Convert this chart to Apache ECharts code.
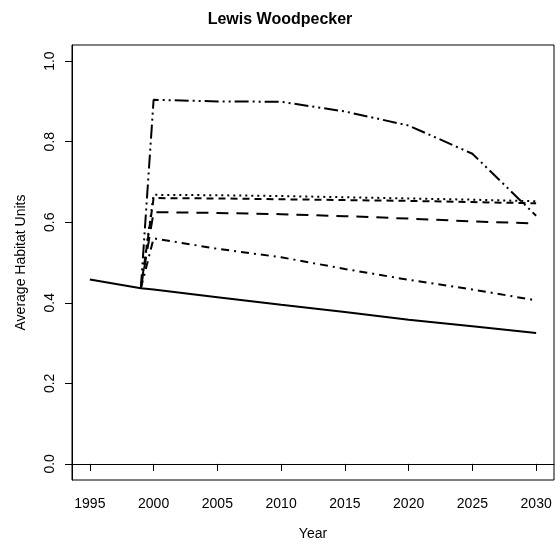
<!DOCTYPE html>
<html>
<head>
<meta charset="utf-8">
<script src="https://cdn.jsdelivr.net/npm/echarts@6/dist/echarts.min.js"></script>
<style>html,body{margin:0;padding:0;background:#fff;}#c{width:560px;height:548px;}</style>
</head>
<body>
<div id="c"></div>
<script>
var years = [1995, 1999, 2000, 2005, 2010, 2015, 2020, 2025, 2030];
var scenYears = [1999, 2000, 2005, 2010, 2015, 2020, 2025, 2030];
var baseline = [0.458, 0.436, 0.433, 0.414, 0.395, 0.377, 0.358, 0.342, 0.325];
var scenTop = [0.436, 0.904, 0.900, 0.899, 0.875, 0.840, 0.770, 0.616];
var scenDotted = [0.436, 0.668, 0.667, 0.665, 0.662, 0.659, 0.656, 0.652];
var scenDashed = [0.436, 0.660, 0.659, 0.657, 0.655, 0.653, 0.650, 0.647];
var scenLongDash = [0.436, 0.625, 0.623, 0.620, 0.615, 0.609, 0.602, 0.597];
var scenDotDash = [0.436, 0.560, 0.534, 0.513, 0.484, 0.457, 0.433, 0.406];
var xTicks = [1995, 2000, 2005, 2010, 2015, 2020, 2025, 2030];
var yTicks = [0, 0.2, 0.4, 0.6, 0.8, 1.0];

function pairs(xs, ys) { return xs.map(function (x, i) { return [x, ys[i]]; }); }
function mk(name, xs, ys, type) {
  return {
    name: name, type: 'line', data: pairs(xs, ys), showSymbol: false, symbol: 'none',
    lineStyle: { color: '#000', width: 2, type: type, cap: 'butt' }, animation: false, z: 3
  };
}
var font = 'Arial, "Liberation Sans", sans-serif';
var chart = echarts.init(document.getElementById('c'));
chart.setOption({
  backgroundColor: '#fff',
  animation: false,
  title: {
    text: 'Lewis Woodpecker', left: 'center', top: 7,
    textStyle: { fontFamily: font, fontSize: 16, fontWeight: 'bold', color: '#000' }
  },
  grid: { left: 72, right: 6, top: 45, bottom: 68, show: true, borderColor: '#000', borderWidth: 1, backgroundColor: 'transparent' },
  xAxis: {
    type: 'value', min: 1993.6, max: 2031.4,
    name: 'Year', nameLocation: 'middle', nameGap: 47,
    nameTextStyle: { fontFamily: font, fontSize: 14, color: '#000' },
    axisLine: { show: true, lineStyle: { color: '#000', width: 1 } },
    axisTick: { show: true, inside: false, length: 7, lineStyle: { color: '#000' }, customValues: xTicks },
    axisLabel: { fontFamily: font, fontSize: 14, color: '#000', margin: 17, customValues: xTicks,
      formatter: function (v) { return String(Math.round(v)); } },
    splitLine: { show: false }
  },
  yAxis: {
    type: 'value', min: -0.04, max: 1.04,
    name: 'Average Habitat Units', nameLocation: 'middle', nameGap: 44, nameRotate: 90,
    nameTextStyle: { fontFamily: font, fontSize: 14, color: '#000' },
    axisLine: { show: true, lineStyle: { color: '#000', width: 1 } },
    axisTick: { show: true, inside: false, length: 7, lineStyle: { color: '#000' }, customValues: yTicks },
    axisLabel: { fontFamily: font, fontSize: 14, color: '#000', margin: 15, rotate: 90, customValues: yTicks,
      formatter: function (v) { return Number(v).toFixed(1); } },
    splitLine: { show: false }
  },
  series: [
    mk('Baseline', years, baseline, 'solid'),
    mk('Scenario A', scenYears, scenTop, [14, 4, 2, 4, 2, 4]),
    mk('Scenario B', scenYears, scenDotted, [2, 4]),
    mk('Scenario C', scenYears, scenDashed, [7, 5]),
    mk('Scenario D', scenYears, scenLongDash, [12, 8]),
    mk('Scenario E', scenYears, scenDotDash, [8, 5, 2, 5])
  ]
});
</script>
</body>
</html>
